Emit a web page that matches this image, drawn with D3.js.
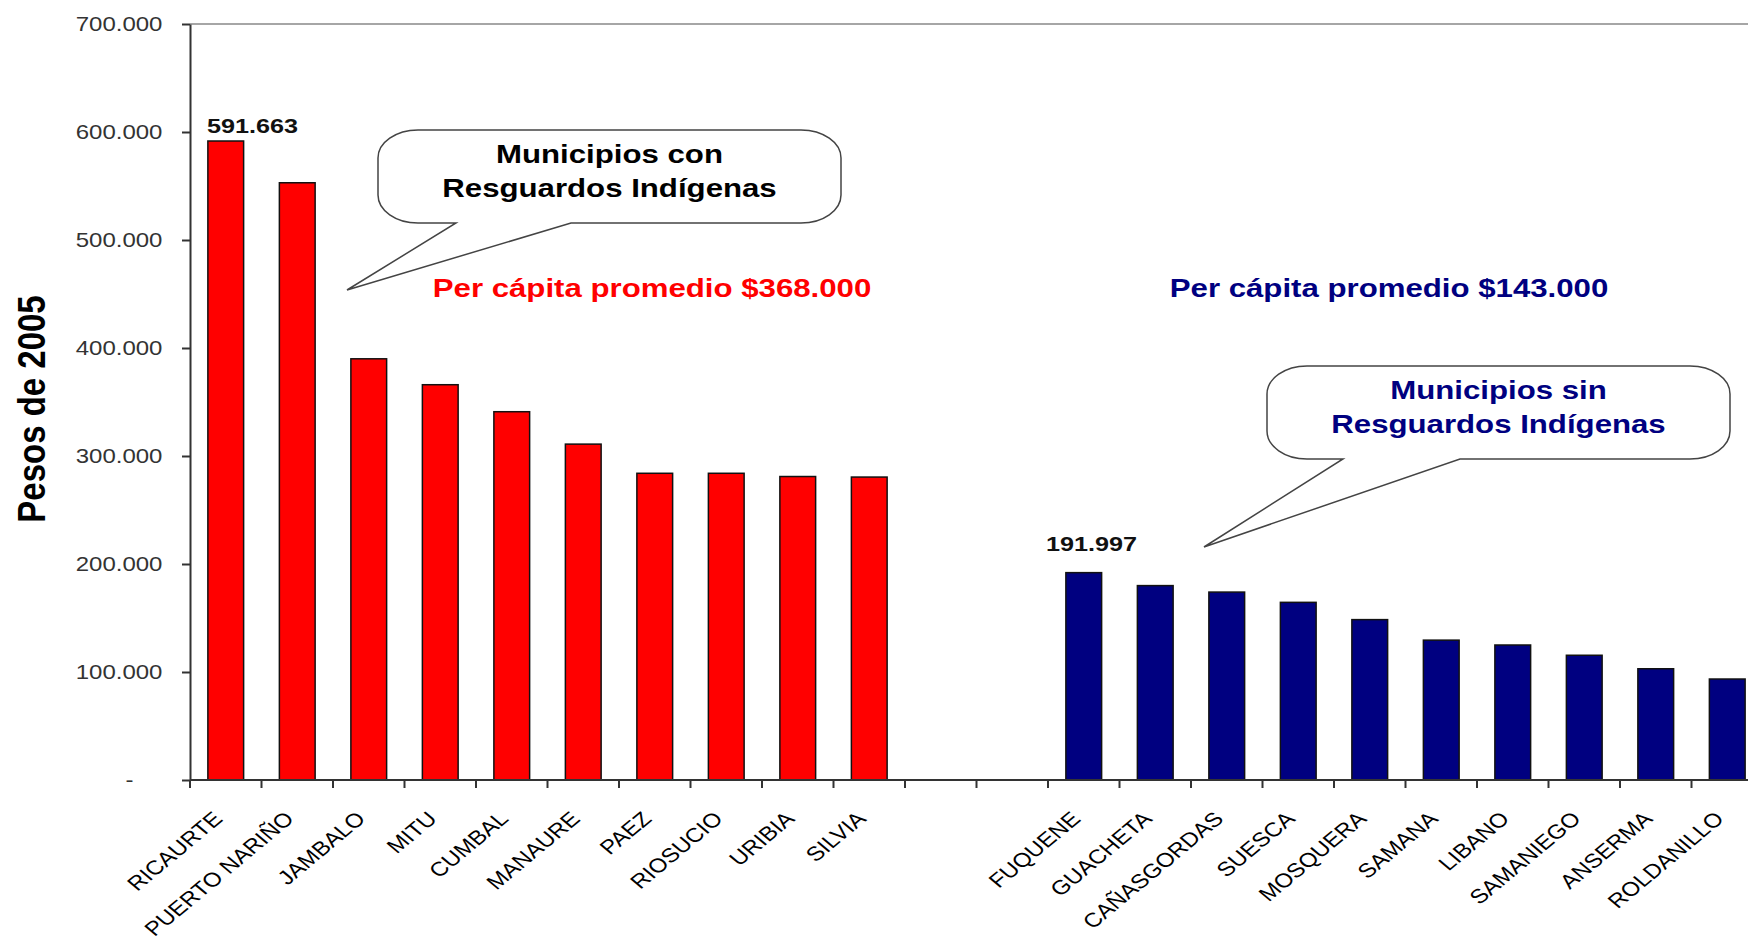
<!DOCTYPE html>
<html>
<head>
<meta charset="utf-8">
<script src="https://cdn.jsdelivr.net/npm/d3@7"></script>
<style>
body{margin:0;background:#fff}
svg{display:block;background:#fff}
text{font-family:"Liberation Sans",Arial,sans-serif}
</style>
</head>
<body>
<svg></svg>
<script>
// municipios con resguardos indigenas
var conCats = ["RICAURTE","PUERTO NARIÑO","JAMBALO","MITU","CUMBAL","MANAURE","PAEZ","RIOSUCIO","URIBIA","SILVIA"];
var conValues = [591663,553000,390000,366000,341000,311000,284000,284000,281000,280500];
// municipios sin resguardos
var sinCats = ["FUQUENE","GUACHETA","CAÑASGORDAS","SUESCA","MOSQUERA","SAMANA","LIBANO","SAMANIEGO","ANSERMA","ROLDANILLO"];
var sinValues = [191997,180000,174000,164500,148500,129500,125000,115500,103000,93500];
var gapCats = ["gap1","gap2"];
var yTicks = [0,100000,200000,300000,400000,500000,600000,700000];

var width = 1748, height = 940;
var sx = 1.2; // the original picture is stretched sideways

var svg = d3.select("svg").attr("width", width).attr("height", height);

var x = d3.scaleBand()
	.domain(conCats.concat(gapCats, sinCats))
	.range([190, 1763])
	.paddingInner(0.5)
	.paddingOuter(0.25);
var y = d3.scaleLinear().domain([0, 700000]).range([780, 24]);

var loc = d3.formatLocale({decimal: ",", thousands: ".", grouping: [3], currency: ["$", ""]});
var fmt = loc.format(",");

var rows = conCats.map(function(c, i){ return {cat: c, v: conValues[i], fill: "#ff0000"}; })
	.concat(sinCats.map(function(c, i){ return {cat: c, v: sinValues[i], fill: "#000080"}; }));

// top border of plot area
svg.append("line")
	.attr("x1", 190).attr("x2", width)
	.attr("y1", 24).attr("y2", 24)
	.attr("stroke", "#a6a6a6").attr("stroke-width", 2);

// bars
svg.selectAll("rect.bar").data(rows).enter()
	.append("rect")
	.attr("class", "bar")
	.attr("x", function(d){ return x(d.cat); })
	.attr("y", function(d){ return y(d.v); })
	.attr("width", x.bandwidth())
	.attr("height", function(d){ return y(0) - y(d.v); })
	.attr("fill", function(d){ return d.fill; })
	.attr("stroke", "#111")
	.attr("stroke-width", 1.5);

// y axis
var yAxis = svg.append("g")
	.attr("transform", "translate(190,0)")
	.call(d3.axisLeft(y).tickValues(yTicks).tickSize(8).tickSizeOuter(0).tickPadding(15)
		.tickFormat(function(d){ return d === 0 ? "-" : fmt(d); }));
yAxis.select(".domain").attr("stroke", "#333").attr("stroke-width", 2);
yAxis.selectAll(".tick line").attr("stroke", "#333").attr("stroke-width", 2);
yAxis.selectAll(".tick text")
	.attr("font-size", 20)
	.attr("fill", "#333")
	.attr("transform", "scale(" + sx + ",1)");
yAxis.selectAll(".tick text").filter(function(d){ return d === 0; }).attr("x", -47);

// x axis line and ticks at category borders
svg.append("line")
	.attr("x1", x.range()[0]).attr("x2", x.range()[1])
	.attr("y1", y(0)).attr("y2", y(0))
	.attr("stroke", "#333").attr("stroke-width", 2);
var borders = x.domain().map(function(d){ return x(d) - x.step() * x.paddingOuter(); });
borders.push(x.range()[1]);
svg.selectAll("line.xtick").data(borders).enter()
	.append("line")
	.attr("class", "xtick")
	.attr("x1", function(d){ return d; }).attr("x2", function(d){ return d; })
	.attr("y1", y(0)).attr("y2", y(0) + 8)
	.attr("stroke", "#333").attr("stroke-width", 2);

// category labels
svg.selectAll("text.cat").data(conCats.concat(sinCats)).enter()
	.append("text")
	.attr("class", "cat")
	.attr("text-anchor", "end")
	.attr("font-size", 20)
	.attr("fill", "#000")
	.attr("transform", function(d){
		return "translate(" + (x(d) + x.bandwidth() / 2 - 2) + ",820) scale(" + sx + ",1) rotate(-45)";
	})
	.text(function(d){ return d; });

// y axis title
svg.append("text")
	.attr("text-anchor", "middle")
	.attr("font-size", 33)
	.attr("font-weight", "bold")
	.attr("transform", "translate(45,409) scale(" + sx + ",1) rotate(-90)")
	.text("Pesos de 2005");

// value labels on the first bar of each group
var valueNotes = [{cat: "RICAURTE", dx: -1, dy: -8}, {cat: "FUQUENE", dx: -20, dy: -22}];
valueNotes.forEach(function(n){
	var r = rows.filter(function(d){ return d.cat === n.cat; })[0];
	svg.append("text")
		.attr("font-size", 21)
		.attr("font-weight", "bold")
		.attr("fill", "#111")
		.attr("transform", "translate(" + (x(r.cat) + n.dx) + "," + (y(r.v) + n.dy) + ") scale(" + sx + ",1)")
		.text(fmt(r.v));
});

// callouts
function calloutPath(b, w, t){
	var x0 = b[0], y0 = b[1], x1 = b[2], y1 = b[3], rx = 40, ry = 28;
	return "M" + (x0 + rx) + "," + y0 +
		"L" + (x1 - rx) + "," + y0 +
		"A" + rx + "," + ry + " 0 0 1 " + x1 + "," + (y0 + ry) +
		"L" + x1 + "," + (y1 - ry) +
		"A" + rx + "," + ry + " 0 0 1 " + (x1 - rx) + "," + y1 +
		"L" + w[1] + "," + y1 +
		"L" + t[0] + "," + t[1] +
		"L" + w[0] + "," + y1 +
		"L" + (x0 + rx) + "," + y1 +
		"A" + rx + "," + ry + " 0 0 1 " + x0 + "," + (y1 - ry) +
		"L" + x0 + "," + (y0 + ry) +
		"A" + rx + "," + ry + " 0 0 1 " + (x0 + rx) + "," + y0 + "Z";
}
var callouts = [
	{box: [378, 130, 841, 223], wedge: [456, 571], tip: [347, 290], lines: ["Municipios con", "Resguardos Indígenas"], color: "#000", base: 163},
	{box: [1267, 366, 1730, 459], wedge: [1343, 1460], tip: [1204, 547], lines: ["Municipios sin", "Resguardos Indígenas"], color: "#000080", base: 399}
];
callouts.forEach(function(c){
	svg.append("path")
		.attr("d", calloutPath(c.box, c.wedge, c.tip))
		.attr("fill", "#fff")
		.attr("stroke", "#444")
		.attr("stroke-width", 1.5);
	var cx = (c.box[0] + c.box[2]) / 2;
	c.lines.forEach(function(l, i){
		svg.append("text")
			.attr("text-anchor", "middle")
			.attr("font-size", 26)
			.attr("font-weight", "bold")
			.attr("fill", c.color)
			.attr("transform", "translate(" + cx + "," + (c.base + i * 34) + ") scale(" + sx + ",1)")
			.text(l);
	});
});

// average notes
var averages = [
	{text: "Per cápita promedio $368.000", cx: 652, color: "#ff0000"},
	{text: "Per cápita promedio $143.000", cx: 1389, color: "#000080"}
];
svg.selectAll("text.avg").data(averages).enter()
	.append("text")
	.attr("class", "avg")
	.attr("text-anchor", "middle")
	.attr("font-size", 26)
	.attr("font-weight", "bold")
	.attr("fill", function(d){ return d.color; })
	.attr("transform", function(d){ return "translate(" + d.cx + ",297) scale(" + sx + ",1)"; })
	.text(function(d){ return d.text; });
</script>
</body>
</html>
